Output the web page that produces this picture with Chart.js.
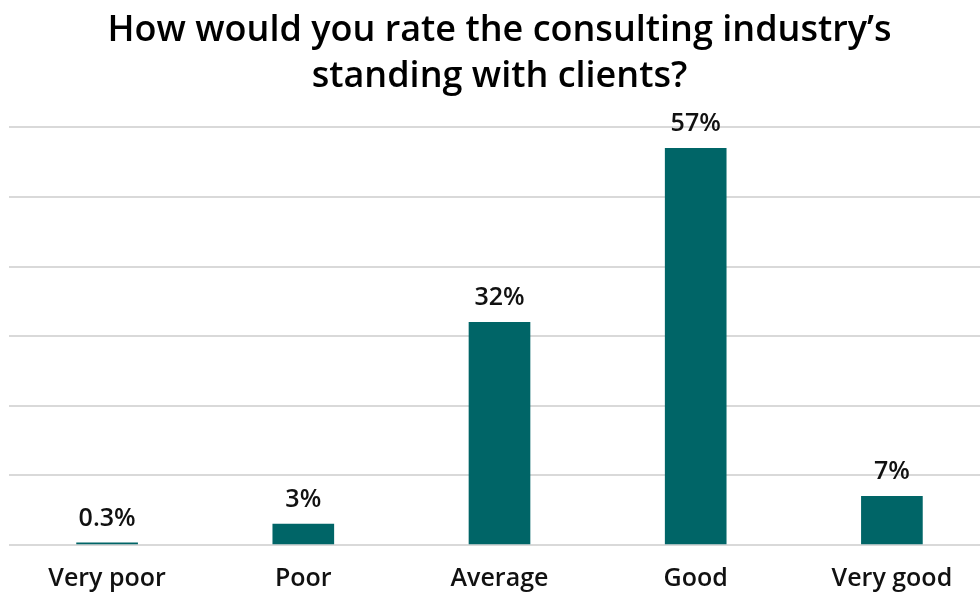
<!DOCTYPE html>
<html>
<head>
<meta charset="utf-8">
<script src="https://cdn.jsdelivr.net/npm/chart.js@4/dist/chart.umd.min.js"></script>
<style>
  html, body { margin: 0; padding: 0; background: #fff; overflow: hidden; }
  #wrap { width: 990px; height: 594px; }
</style>
</head>
<body>
<div id="wrap"><canvas id="c" width="990" height="594"></canvas></div>
<script>
const categories = ["Very poor", "Poor", "Average", "Good", "Very good"];
const shares = [0.3, 3, 32, 57, 7];
const valueLabels = ["0.3%", "3%", "32%", "57%", "7%"];
const titleLines = ["How would you rate the consulting industry\u2019s", "standing with clients?"];

const FONT = "'Open Sans', 'Noto Sans', sans-serif";

// Writes each bar's percentage just above it
const barValueLabels = {
  id: "barValueLabels",
  afterDatasetsDraw(chart) {
    const ctx = chart.ctx;
    const meta = chart.getDatasetMeta(0);
    ctx.save();
    ctx.font = "600 25px " + FONT;
    ctx.fillStyle = "#111";
    ctx.textAlign = "center";
    ctx.textBaseline = "alphabetic";
    meta.data.forEach((bar, i) => {
      ctx.fillText(valueLabels[i], bar.x, bar.y - 17);
    });
    ctx.restore();
  }
};

new Chart(document.getElementById("c"), {
  type: "bar",
  data: {
    labels: categories,
    datasets: [{
      data: shares,
      backgroundColor: "#006567",
      barThickness: 61
    }]
  },
  options: {
    responsive: false,
    animation: false,
    layout: { padding: { left: 9, right: 0, top: 0, bottom: 0 } },
    plugins: {
      legend: { display: false },
      tooltip: { enabled: false },
      title: {
        display: true,
        text: titleLines,
        color: "#000",
        font: { family: FONT, size: 36, weight: "600", lineHeight: 1.27 },
        padding: { top: 8, bottom: 28 },
        align: "center"
      }
    },
    scales: {
      x: {
        grid: { display: false, drawTicks: false },
        border: { display: false },
        ticks: {
          color: "#111",
          maxRotation: 0,
          font: { family: FONT, size: 25, weight: "600", lineHeight: 1.2 },
          padding: 19
        },
        afterFit(scale) { scale.height = 49; }
      },
      y: {
        min: 0,
        max: 60,
        ticks: { display: false, stepSize: 10 },
        border: { display: false },
        grid: { color: "#d9d9d9", lineWidth: 2, drawTicks: false }
      }
    }
  },
  plugins: [barValueLabels]
});
</script>
</body>
</html>
